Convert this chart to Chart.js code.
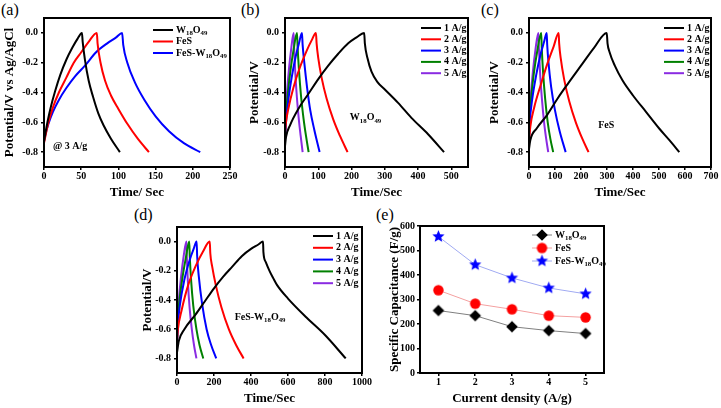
<!DOCTYPE html>
<html>
<head>
<meta charset="utf-8">
<script src="https://cdn.jsdelivr.net/npm/chart.js@4.4.0/dist/chart.umd.min.js"></script>
<style>
body { margin:0; width:721px; height:408px; background:#fff; position:relative; overflow:hidden; font-family:'Liberation Serif', 'Times New Roman', serif; }
canvas { position:absolute; }
.tag { position:absolute; font-size:16px; line-height:16px; color:#000; }
</style>
</head>
<body>
<div class="tag" style="left:1px;top:2px">(a)</div>
<div class="tag" style="left:241px;top:2px">(b)</div>
<div class="tag" style="left:481px;top:2px">(c)</div>
<div class="tag" style="left:134px;top:207px">(d)</div>
<div class="tag" style="left:376px;top:207px">(e)</div>
<canvas id="chartA" width="240" height="202" style="left:0px;top:0px"></canvas>
<canvas id="chartB" width="233" height="202" style="left:245px;top:0px"></canvas>
<canvas id="chartC" width="236" height="202" style="left:485px;top:0px"></canvas>
<canvas id="chartD" width="234" height="190" style="left:138px;top:218px"></canvas>
<canvas id="chartE" width="229" height="190" style="left:385px;top:218px"></canvas>
<script>
const FONT = "'Liberation Serif', 'Times New Roman', serif"

// (a) charge/discharge at 3 A/g  [time s, potential V]
const a_W18O49 = [[0,-0.73],[2,-0.67],[5,-0.59],[9,-0.5],[15,-0.39],[22,-0.28],[30,-0.18],[38,-0.1],[45,-0.04],[51,0],[52,-0.06],[55,-0.18],[60,-0.32],[66,-0.43],[73,-0.54],[80,-0.62],[90,-0.71],[102,-0.8]]
const a_FeS = [[0,-0.74],[2,-0.69],[6,-0.6],[12,-0.5],[20,-0.4],[30,-0.3],[40,-0.2],[50,-0.13],[60,-0.06],[71,0],[72,-0.07],[76,-0.2],[82,-0.32],[90,-0.42],[100,-0.51],[112,-0.61],[126,-0.71],[141,-0.8]]
const a_FeSW18O49 = [[0,-0.73],[2,-0.68],[6,-0.61],[12,-0.53],[20,-0.45],[30,-0.37],[42,-0.29],[55,-0.22],[70,-0.13],[85,-0.07],[97,-0.03],[105,0],[106.5,-0.08],[112,-0.2],[122,-0.33],[135,-0.45],[150,-0.56],[168,-0.66],[188,-0.74],[210,-0.8]]

// (b) W18O49 at 1..5 A/g
const b_1 = [[0,-0.76],[3,-0.7],[15,-0.62],[40,-0.51],[70,-0.41],[100,-0.31],[130,-0.22],[160,-0.14],[190,-0.07],[215,-0.03],[238,0],[240,-0.07],[248,-0.17],[260,-0.26],[278,-0.33],[300,-0.38],[340,-0.47],[380,-0.57],[430,-0.68],[478,-0.8]]
const b_2 = [[0,-0.68],[3,-0.6],[10,-0.51],[25,-0.37],[45,-0.23],[65,-0.12],[80,-0.05],[93,0],[95,-0.07],[100,-0.17],[110,-0.3],[125,-0.44],[145,-0.58],[165,-0.69],[188,-0.8]]
const b_3 = [[0,-0.72],[3,-0.6],[10,-0.45],[20,-0.3],[32,-0.16],[42,-0.07],[51,0],[53,-0.08],[58,-0.2],[66,-0.36],[76,-0.52],[88,-0.65],[104,-0.8]]
const b_4 = [[0,-0.72],[2,-0.58],[8,-0.42],[16,-0.26],[26,-0.11],[36,0],[38,-0.1],[42,-0.25],[48,-0.42],[56,-0.58],[63,-0.69],[71,-0.8]]
const b_5 = [[0,-0.72],[2,-0.55],[6,-0.4],[12,-0.24],[19,-0.1],[26,0],[27.5,-0.1],[31,-0.27],[36,-0.44],[42,-0.59],[47,-0.69],[53,-0.8]]

// (c) FeS at 1..5 A/g
const c_1 = [[0,-0.78],[5,-0.72],[30,-0.64],[70,-0.55],[110,-0.44],[150,-0.34],[200,-0.22],[250,-0.1],[299,0],[302,-0.07],[310,-0.13],[330,-0.22],[360,-0.32],[400,-0.42],[450,-0.53],[500,-0.64],[540,-0.72],[578,-0.8]]
const c_2 = [[0,-0.73],[5,-0.63],[20,-0.5],[45,-0.35],[70,-0.21],[95,-0.09],[114,0],[116,-0.07],[122,-0.17],[135,-0.31],[155,-0.46],[180,-0.6],[205,-0.71],[229,-0.8]]
const c_3 = [[0,-0.72],[3,-0.6],[12,-0.45],[28,-0.28],[45,-0.14],[58,-0.06],[68,0],[70,-0.08],[75,-0.2],[85,-0.36],[100,-0.52],[118,-0.66],[141,-0.8]]
const c_4 = [[0,-0.72],[2,-0.58],[8,-0.44],[18,-0.28],[32,-0.12],[47,0],[49,-0.1],[54,-0.26],[62,-0.44],[72,-0.6],[82,-0.71],[93,-0.8]]
const c_5 = [[0,-0.72],[2,-0.56],[7,-0.42],[15,-0.26],[25,-0.11],[36,0],[38,-0.1],[43,-0.28],[50,-0.45],[58,-0.6],[66,-0.71],[74,-0.8]]

// (d) FeS-W18O49 at 1..5 A/g
const d_1 = [[0,-0.76],[10,-0.68],[40,-0.6],[100,-0.5],[150,-0.41],[200,-0.32],[250,-0.24],[300,-0.17],[350,-0.1],[400,-0.05],[440,-0.02],[465,0],[467,-0.07],[480,-0.14],[500,-0.2],[520,-0.25],[542,-0.3],[600,-0.39],[700,-0.52],[800,-0.64],[912,-0.8]]
const d_2 = [[0,-0.68],[5,-0.6],[25,-0.47],[60,-0.3],[100,-0.17],[140,-0.07],[177,0],[180,-0.08],[190,-0.17],[210,-0.3],[240,-0.45],[280,-0.6],[320,-0.71],[360,-0.8]]
const d_3 = [[0,-0.7],[4,-0.58],[15,-0.44],[40,-0.26],[70,-0.12],[90,-0.05],[106,0],[109,-0.1],[118,-0.24],[135,-0.42],[160,-0.6],[185,-0.71],[212,-0.8]]
const d_4 = [[0,-0.72],[3,-0.58],[12,-0.42],[28,-0.26],[48,-0.11],[66,0],[69,-0.1],[76,-0.26],[88,-0.44],[105,-0.6],[122,-0.71],[142,-0.8]]
const d_5 = [[0,-0.72],[3,-0.56],[10,-0.4],[22,-0.24],[36,-0.1],[51,0],[53,-0.1],[59,-0.28],[68,-0.45],[80,-0.6],[92,-0.71],[105,-0.8]]

// (e) specific capacitance
const density = [1, 2, 3, 4, 5]
const cap_W18O49 = [255, 234, 189, 173, 161]
const cap_FeS = [338, 283, 260, 234, 227]
const cap_FeSW18O49 = [557, 442, 388, 347, 323]

const materialLabels = ['W_18O_49', 'FeS', 'FeS-W_18O_49']
const materialColors = ['#000000', '#ff0000', '#0000ff']
const currentLabels = ['1 A/g', '2 A/g', '3 A/g', '4 A/g', '5 A/g']
const currentColors = ['#000000', '#ff0000', '#0000ff', '#008000', '#8a2be2']

const potentialTicks = [-0.8, -0.6, -0.4, -0.2, 0]
const aTimeTicks = [0, 50, 100, 150, 200, 250]
const bTimeTicks = [0, 100, 200, 300, 400, 500]
const cTimeTicks = [0, 100, 200, 300, 400, 500, 600, 700]
const dTimeTicks = [0, 200, 400, 600, 800, 1000]
const capTicks = [0, 100, 200, 300, 400, 500, 600]

// text with "_18" style subscripts
function drawSub(ctx, str, x, y, size, align) {
    const parts = []
    const re = /_(\d+)|([^_]+)/g
    let m
    while ((m = re.exec(str)) !== null) parts.push(m[1] ? [m[1], true] : [m[2], false])
    let w = 0
    parts.forEach(function (p) {
        ctx.font = 'bold ' + (p[1] ? size * 0.68 : size) + 'px ' + FONT
        w += ctx.measureText(p[0]).width
    })
    let cx = align === 'center' ? x - w / 2 : x
    ctx.textAlign = 'left'
    ctx.textBaseline = 'middle'
    ctx.fillStyle = '#000'
    parts.forEach(function (p) {
        ctx.font = 'bold ' + (p[1] ? size * 0.68 : size) + 'px ' + FONT
        ctx.fillText(p[0], cx, p[1] ? y + size * 0.3 : y)
        cx += ctx.measureText(p[0]).width
    })
}

const boxPlugin = {
    id: 'frame',
    afterDraw(chart) {
        const ctx = chart.ctx, a = chart.chartArea
        ctx.save()
        ctx.strokeStyle = '#000'
        ctx.lineWidth = 2
        ctx.strokeRect(a.left, a.top, a.right - a.left, a.bottom - a.top)
        ctx.restore()
    }
}

const legendPlugin = {
    id: 'panelLegend',
    afterDraw(chart, args, opts) {
        if (!opts.labels) return
        const ctx = chart.ctx, a = chart.chartArea
        ctx.save()
        opts.labels.forEach(function (label, i) {
            const ds = chart.data.datasets[i]
            const x = a.left + opts.x, y = a.top + opts.y + i * opts.step
            ctx.strokeStyle = ds.borderColor
            ctx.lineWidth = ds.borderWidth
            ctx.beginPath()
            ctx.moveTo(x, y)
            ctx.lineTo(x + opts.len, y)
            ctx.stroke()
            if (opts.marker) {
                const img = ds.pointStyle
                ctx.drawImage(img, x + opts.len / 2 - img.width / 2, y - img.height / 2)
            }
            drawSub(ctx, label, x + opts.len + 3, y, 10, 'left')
        })
        ctx.restore()
    }
}

const notePlugin = {
    id: 'panelNote',
    afterDraw(chart, args, opts) {
        if (!opts.text) return
        const px = chart.scales.x.getPixelForValue(opts.x)
        const py = chart.scales.y.getPixelForValue(opts.y)
        chart.ctx.save()
        drawSub(chart.ctx, opts.text, px, py, 10, opts.align)
        chart.ctx.restore()
    }
}

function axis(min, max, ticks, title, fmt, size, pad) {
    return {
        type: 'linear', min: min, max: max,
        afterBuildTicks: function (s) { s.ticks = ticks.map(function (v) { return { value: v } }) },
        afterFit: function (s) { if (s.isHorizontal()) s.height = size; else s.width = size },
        border: { display: false },
        grid: { drawOnChartArea: false, drawTicks: true, tickLength: 3, color: '#000', lineWidth: 1.5 },
        ticks: { color: '#000', font: { family: FONT, size: 10, weight: 'bold' }, padding: pad, callback: fmt, maxRotation: 0, autoSkip: false },
        title: { display: true, text: title, color: '#000', font: { family: FONT, size: 13, weight: 'bold' }, padding: { top: 2, bottom: 2 } }
    }
}

function potentialFmt(v) { return v.toFixed(1) }
function plainFmt(v) { return String(v) }

function gcdChart(id, series, colors, legendLabels, legend, xMax, xTicks, xTitle, yTitle, yw, padTop, note) {
    const datasets = series.map(function (s, i) {
        return {
            data: s.map(function (p) { return { x: p[0], y: p[1] } }),
            borderColor: colors[i], borderWidth: 2, pointRadius: 0,
            cubicInterpolationMode: 'monotone', fill: false
        }
    })
    legend.labels = legendLabels
    new Chart(document.getElementById(id), {
        type: 'line',
        data: { datasets: datasets },
        options: {
            responsive: false, animation: false, devicePixelRatio: 1,
            layout: { padding: { top: padTop, right: 10, left: 0, bottom: 0 } },
            scales: {
                x: axis(0, xMax, xTicks, xTitle, plainFmt, 35, 0),
                y: axis(-0.9, 0.1, potentialTicks, yTitle, potentialFmt, yw, 3)
            },
            plugins: { legend: { display: false }, tooltip: { enabled: false }, panelLegend: legend, panelNote: note }
        },
        plugins: [boxPlugin, legendPlugin, notePlugin]
    })
}

gcdChart('chartA', [a_W18O49, a_FeS, a_FeSW18O49], materialColors, materialLabels,
    { x: 109, y: 12, step: 11.5, len: 20 }, 250, aTimeTicks, 'Time/ Sec', 'Potential/V vs Ag/AgCl', 44, 18,
    { text: '@ 3 A/g', x: 12, y: -0.76, align: 'left' })
gcdChart('chartB', [b_1, b_2, b_3, b_4, b_5], currentColors, currentLabels,
    { x: 136, y: 10, step: 11.3, len: 20 }, 550, bTimeTicks, 'Time/Sec', 'Potential/V', 40, 18,
    { text: 'W_18O_49', x: 242, y: -0.57, align: 'center' })
gcdChart('chartC', [c_1, c_2, c_3, c_4, c_5], currentColors, currentLabels,
    { x: 135, y: 10, step: 11.3, len: 20 }, 700, cTimeTicks, 'Time/Sec', 'Potential/V', 44, 18,
    { text: 'FeS', x: 297, y: -0.62, align: 'center' })
gcdChart('chartD', [d_1, d_2, d_3, d_4, d_5], currentColors, currentLabels,
    { x: 136, y: 9, step: 11.8, len: 20 }, 1000, dTimeTicks, 'Time/Sec', 'Potential/V', 39, 6,
    { text: 'FeS-W_18O_49', x: 449, y: -0.52, align: 'center' })

// marker images for panel (e)
function markerCanvas(r, color, shape) {
    const c = document.createElement('canvas')
    c.width = c.height = Math.ceil(2 * r + 2)
    const g = c.getContext('2d')
    const cx = c.width / 2, cy = c.height / 2
    g.fillStyle = color
    g.beginPath()
    if (shape === 'circle') {
        g.arc(cx, cy, r, 0, Math.PI * 2)
    } else if (shape === 'diamond') {
        g.moveTo(cx, cy - r); g.lineTo(cx + r, cy); g.lineTo(cx, cy + r); g.lineTo(cx - r, cy)
    } else {
        for (let k = 0; k < 10; k++) {
            const rr = k % 2 === 0 ? r : r * 0.45
            const ang = -Math.PI / 2 + k * Math.PI / 5
            g.lineTo(cx + rr * Math.cos(ang), cy + rr * Math.sin(ang))
        }
    }
    g.closePath()
    g.fill()
    return c
}

const capSeries = [cap_W18O49, cap_FeS, cap_FeSW18O49]
const capLineColors = ['#7f7f7f', '#f4a0a0', '#a0aaf2']
const capMarkers = [markerCanvas(5.8, '#000000', 'diamond'), markerCanvas(5.2, '#ff0000', 'circle'), markerCanvas(6.4, '#0000ff', 'star')]

new Chart(document.getElementById('chartE'), {
    type: 'line',
    data: {
        datasets: capSeries.map(function (vals, i) {
            return {
                data: density.map(function (d, j) { return { x: d, y: vals[j] } }),
                borderColor: capLineColors[i], borderWidth: 1,
                pointStyle: capMarkers[i], pointRadius: 5, fill: false
            }
        })
    },
    options: {
        responsive: false, animation: false, devicePixelRatio: 1,
        layout: { padding: { top: 6, right: 10, left: 0, bottom: 0 } },
        scales: {
            x: axis(0.5, 5.5, density, 'Current density (A/g)', plainFmt, 35, 0),
            y: axis(0, 600, capTicks, 'Specific Capacitance (F/g)', plainFmt, 35, 2)
        },
        plugins: {
            legend: { display: false }, tooltip: { enabled: false },
            panelLegend: { labels: materialLabels, x: 112, y: 9, step: 13, len: 20, marker: true }
        }
    },
    plugins: [boxPlugin, legendPlugin]
})
</script>
</body>
</html>
